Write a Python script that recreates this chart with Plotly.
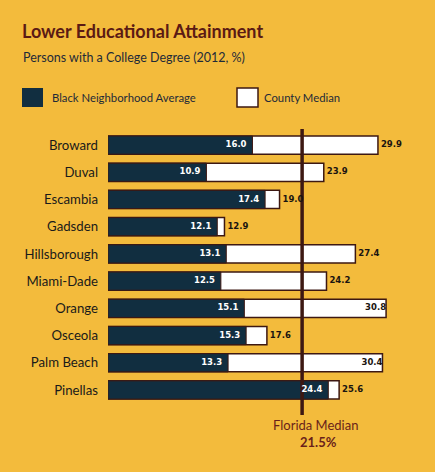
import plotly.graph_objects as go

# data
counties = ["Broward", "Duval", "Escambia", "Gadsden", "Hillsborough",
            "Miami-Dade", "Orange", "Osceola", "Palm Beach", "Pinellas"]
black_avg = [16.0, 10.9, 17.4, 12.1, 13.1, 12.5, 15.1, 15.3, 13.3, 24.4]
county_median = [29.9, 23.9, 19.0, 12.9, 27.4, 24.2, 30.8, 17.6, 30.4, 25.6]
florida_median = 21.5

BG = "#F3BB3C"
NAVY = "#112E40"
BROWN = "#3D1812"
MAROON = "#6A1F1A"

# the page puts the figure 8px in from the top left corner
OFF = 8
W, H = 435 - OFF, 472 - OFF
L, R, T, B = 108 - OFF, 11, 129 - OFF, 57
PW, PH = W - L - R, H - T - B


def px_x(px):
    return (px - OFF - L) / PW


def px_y(py):
    return 1 - (py - OFF - T) / PH


pos = list(range(len(counties)))
y_range = [9.92, -0.59]

fig = go.Figure()
fig.add_trace(go.Bar(x=county_median, y=pos, orientation="h", width=0.67,
                     marker=dict(color="white", line=dict(color=BROWN, width=1.5)),
                     hoverinfo="skip"))
fig.add_trace(go.Bar(x=black_avg, y=pos, orientation="h", width=0.67,
                     marker=dict(color=NAVY, line=dict(color=BROWN, width=1)),
                     hoverinfo="skip"))

# Florida median line
fig.add_trace(go.Scatter(x=[florida_median, florida_median], y=y_range, mode="lines",
                         line=dict(color=BROWN, width=3.5), cliponaxis=False,
                         hoverinfo="skip"))

# value labels
fig.add_trace(go.Scatter(x=black_avg, y=pos, mode="text",
                         text=["%.1f  " % v for v in black_avg],
                         textposition="middle left",
                         textfont=dict(family="DejaVu Sans", size=8.5, color="white", weight="bold"),
                         cliponaxis=False, hoverinfo="skip"))
cm_pos = ["middle left" if v > 30 else "middle right" for v in county_median]
cm_text = ["%.1f" % v if v > 30 else " %.1f" % v for v in county_median]
fig.add_trace(go.Scatter(x=county_median, y=pos, mode="text", text=cm_text,
                         textposition=cm_pos,
                         textfont=dict(family="DejaVu Sans", size=8.5, color="#1A1410", weight="bold"),
                         cliponaxis=False, hoverinfo="skip"))

fig.update_layout(
    width=W, height=H, barmode="overlay", showlegend=False,
    paper_bgcolor=BG, plot_bgcolor=BG,
    margin=dict(l=L, r=R, t=T, b=B),
    xaxis=dict(range=[0, 35], visible=False),
    yaxis=dict(range=y_range, tickvals=pos, ticktext=counties, showgrid=False,
               zeroline=False, automargin=False, ticklabelstandoff=9,
               tickfont=dict(family="Lato", size=13.2, color="#1A1A1A")),
)

# legend swatches
fig.add_shape(type="rect", xref="paper", yref="paper",
              x0=px_x(22), x1=px_x(43), y0=px_y(88), y1=px_y(107),
              fillcolor=NAVY, line=dict(width=0))
fig.add_shape(type="rect", xref="paper", yref="paper",
              x0=px_x(237), x1=px_x(258), y0=px_y(88), y1=px_y(107),
              fillcolor="white", line=dict(color=BROWN, width=1.5))

ann = [
    dict(text="<b>Lower Educational Attainment</b>", x=px_x(20), y=px_y(31),
         font=dict(family="Lato", size=18, color="#5B1A14")),
    dict(text="Persons with a College Degree (2012, %)", x=px_x(21), y=px_y(57),
         font=dict(family="Lato", size=12.5, color="#1E2A38")),
    dict(text="Black Neighborhood Average", x=px_x(50), y=px_y(97),
         font=dict(family="Lato", size=11.3, color="#1E2A38")),
    dict(text="County Median", x=px_x(262), y=px_y(97),
         font=dict(family="Lato", size=11.3, color="#1E2A38")),
]
for a in ann:
    fig.add_annotation(xref="paper", yref="paper", xanchor="left", yanchor="middle",
                       showarrow=False, **a)

fig.add_annotation(xref="paper", yref="paper", x=px_x(315), y=px_y(425),
                   text="Florida Median", showarrow=False, xanchor="center", yanchor="middle",
                   font=dict(family="Lato", size=13, color=MAROON))
fig.add_annotation(xref="paper", yref="paper", x=px_x(318), y=px_y(442),
                   text="<b>%.1f%%</b>" % florida_median, showarrow=False,
                   xanchor="center", yanchor="middle",
                   font=dict(family="Lato", size=13, color=MAROON))

fig.write_html("out.html",
               post_script="document.body.style.background='%s';" % BG)
